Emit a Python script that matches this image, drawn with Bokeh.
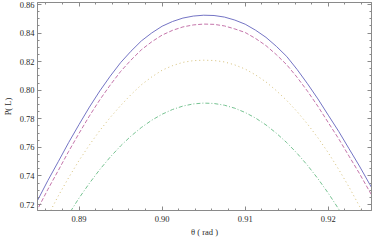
from bokeh.plotting import figure
from bokeh.models import LinearAxis, FixedTicker, Range1d, Title
from bokeh.embed import file_html
from bokeh.resources import INLINE

theta = [0.8825, 0.88375, 0.885, 0.88625, 0.8875, 0.88875, 0.89, 0.89125, 0.8925, 0.89375,
         0.895, 0.89625, 0.8975, 0.89875, 0.9, 0.90125, 0.9025, 0.90375, 0.905, 0.90625,
         0.9075, 0.90875, 0.91, 0.91125, 0.9125, 0.91375, 0.915, 0.91625, 0.9175, 0.91875,
         0.92, 0.92125, 0.9225, 0.92375, 0.925, 0.92625, 0.9275]
p_solid = [0.6945, 0.7090, 0.7228, 0.7368, 0.7500, 0.7634, 0.7760, 0.7882, 0.7995, 0.8098,
           0.8193, 0.8273, 0.8345, 0.8401, 0.8448, 0.8481, 0.8505, 0.8519, 0.8525, 0.8523,
           0.8512, 0.8491, 0.8462, 0.8420, 0.8370, 0.8307, 0.8236, 0.8145, 0.8045, 0.7939,
           0.7825, 0.7712, 0.7590, 0.7469, 0.7340, 0.7214, 0.7080]
p_dashed = [0.6883, 0.7028, 0.7166, 0.7306, 0.7438, 0.7572, 0.7698, 0.7820, 0.7933, 0.8036,
            0.8131, 0.8211, 0.8283, 0.8339, 0.8386, 0.8419, 0.8443, 0.8457, 0.8463, 0.8461,
            0.8450, 0.8429, 0.8404, 0.8362, 0.8312, 0.8249, 0.8178, 0.8090, 0.7993, 0.7887,
            0.7773, 0.7660, 0.7538, 0.7417, 0.7288, 0.7162, 0.7028]
p_dotted = [0.6651, 0.6817, 0.6974, 0.7121, 0.7260, 0.7388, 0.7508, 0.7617, 0.7718, 0.7809,
            0.7892, 0.7969, 0.8038, 0.8093, 0.8140, 0.8172, 0.8195, 0.8207, 0.8210, 0.8208,
            0.8198, 0.8177, 0.8148, 0.8107, 0.8058, 0.7997, 0.7928, 0.7850, 0.7763, 0.7667,
            0.7562, 0.7446, 0.7322, 0.7188, 0.7046, 0.6893, 0.6731]
p_dashdot = [0.6426, 0.6585, 0.6735, 0.6876, 0.7008, 0.7131, 0.7245, 0.7349, 0.7445, 0.7532,
             0.7610, 0.7679, 0.7739, 0.7790, 0.7832, 0.7865, 0.7889, 0.7904, 0.7910, 0.7907,
             0.7895, 0.7874, 0.7844, 0.7805, 0.7757, 0.7699, 0.7633, 0.7558, 0.7474, 0.7381,
             0.7279, 0.7168, 0.7048, 0.6919, 0.6781, 0.6634, 0.6478]

x_ticks = [0.89, 0.90, 0.91, 0.92]
x_tick_labels = ["0.89", "0.90", "0.91", "0.92"]
y_ticks = [0.72, 0.74, 0.76, 0.78, 0.80, 0.82, 0.84, 0.86]
y_tick_labels = ["0.72", "0.74", "0.76", "0.78", "0.80", "0.82", "0.84", "0.86"]
x_minor = [round(0.886 + 0.002 * i, 3) for i in range(20)]
y_minor = [round(0.715 + 0.005 * i, 3) for i in range(31)]
x_title = "θ ( rad )"
y_title = "P( L)"

FONT = "Liberation Serif"
FRAME = "#8a8a8a"
TXT = "#2a2a2a"

p = figure(width=374, height=240, output_backend="svg", toolbar_location=None,
           x_range=Range1d(0.885, 0.9252), y_range=Range1d(0.7158, 0.8614),
           min_border_left=35, min_border_right=2, min_border_top=3, min_border_bottom=29,
           x_axis_location=None, y_axis_location=None)
p.margin = (-1, 0, 0, -1)
p.grid.visible = False
p.outline_line_color = FRAME
p.outline_line_width = 1
p.background_fill_color = "white"
p.border_fill_color = "white"

def style_axis(ax, ticks, labels, minor, show_labels):
    ax.ticker = FixedTicker(ticks=ticks, minor_ticks=minor)
    ax.axis_line_color = FRAME
    ax.major_tick_line_color = FRAME
    ax.minor_tick_line_color = FRAME
    ax.major_tick_in = 4
    ax.major_tick_out = 0
    ax.minor_tick_in = 2
    ax.minor_tick_out = 0
    ax.major_label_text_font = FONT
    ax.major_label_text_font_size = "8.5px"
    ax.major_label_text_color = TXT
    if show_labels:
        ax.major_label_overrides = {t: l for t, l in zip(ticks, labels)}
        ax.major_label_standoff = 3
    else:
        ax.major_label_overrides = {t: "" for t in ticks}
        ax.major_label_standoff = 0

xb = LinearAxis()
style_axis(xb, x_ticks, x_tick_labels, x_minor, True)
xb.major_label_standoff = 5
p.add_layout(xb, "below")

p.add_layout(Title(text=x_title, align="center", text_font=FONT, text_font_size="8.5px",
                   text_font_style="normal", text_color=TXT, standoff=0, offset=0), "below")

yl = LinearAxis(axis_label=y_title)
style_axis(yl, y_ticks, y_tick_labels, y_minor, True)
yl.axis_label_text_font = FONT
yl.axis_label_text_font_size = "8.5px"
yl.axis_label_text_font_style = "normal"
yl.axis_label_text_color = TXT
yl.axis_label_standoff = 4
p.add_layout(yl, "left")

xt = LinearAxis()
style_axis(xt, x_ticks, x_tick_labels, x_minor, False)
p.add_layout(xt, "above")
yr = LinearAxis()
style_axis(yr, y_ticks, y_tick_labels, y_minor, False)
p.add_layout(yr, "right")

p.line(theta, p_solid, line_color="#6464bd", line_width=0.9)
p.line(theta, p_dashed, line_color="#bd64a0", line_width=0.9, line_dash="4 2")
p.line(theta, p_dotted, line_color="#d0b868", line_width=0.9, line_dash="1 3")
p.line(theta, p_dashdot, line_color="#66bb84", line_width=0.9, line_dash="4 2 1 2")

open("out.html", "w").write(file_html(p, INLINE))
